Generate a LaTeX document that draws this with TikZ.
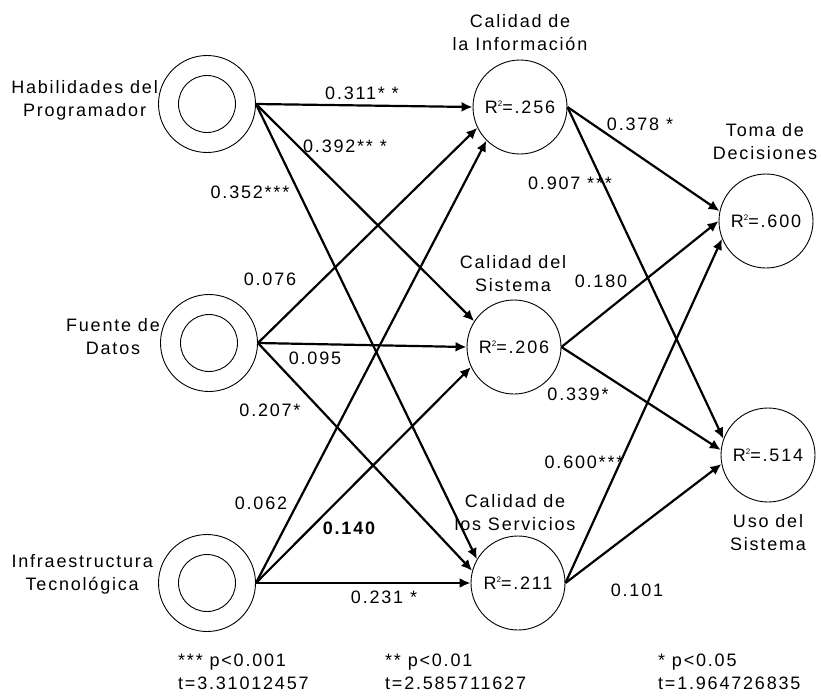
\documentclass[tikz,border=0pt]{standalone}
\usepackage{fontspec}
\setmainfont[LetterSpace=10]{Liberation Sans}
\usetikzlibrary{arrows.meta}
\newcommand\lbl{\fontsize{18}{23}\selectfont}
\newcommand\rsq{R\raisebox{7pt}{\fontsize{8}{8}\selectfont 2}}
\begin{document}
\begin{tikzpicture}[x=1pt,y=-1pt,
  outerc/.style={circle,draw,line width=0.9pt,minimum size=97pt,inner sep=0pt},
  innerc/.style={circle,draw,line width=0.9pt,minimum size=57pt,inner sep=0pt},
  endo/.style={circle,draw,line width=0.9pt,minimum size=94pt,inner sep=0pt,font=\lbl},
  vname/.style={align=center,font=\lbl,inner sep=0pt},
  coef/.style={font=\lbl,inner sep=0pt},
  pth/.style={line width=2.2pt,-{Latex[length=11pt,width=10pt]}}
]
\useasboundingbox (0,0) rectangle (821,699);
% exogenous
\node[outerc] (hab) at (207,104) {}; \node[innerc] (habi) at (207,104) {};
\node[outerc] (fue) at (209,343) {}; \node[innerc] (fuei) at (209,343) {};
\node[outerc] (inf) at (207,583) {}; \node[innerc] (infi) at (207,583) {};
\node[vname,anchor=east] (habl) at (158,100) {Habilidades del\\Programador};
\node[vname,anchor=east] (fuel) at (160,337) {Fuente de\\Datos};
\node[vname,anchor=east] (infl) at (153,574) {Infraestructura\\Tecnológica};
% endogenous
\node[endo] (info) at (520,107) {\rsq=.256};
\node[endo] (sis) at (514,347) {\rsq=.206};
\node[endo] (ser) at (518,583) {\rsq=.211};
\node[endo] (toma) at (766,221) {\rsq=.600};
\node[endo] (uso) at (768,455) {\rsq=.514};
\node[vname] (infol) at (520,33) {Calidad de\\la Información};
\node[vname] (sisl) at (513,274) {Calidad del\\Sistema};
\node[vname] (serl) at (515,513) {Calidad de\\los Servicios};
\node[vname] (tomal) at (765,142) {Toma de\\Decisiones};
\node[vname] (usol) at (768,533) {Uso del\\Sistema};
% paths left
\draw[pth] (hab.east) -- (info.180);
\draw[pth] (hab.east) -- (sis.147);
\draw[pth] (hab.east) -- (ser.150);
\draw[pth] (fue.east) -- (info.206);
\draw[pth] (fue.east) -- (sis.180);
\draw[pth] (fue.east) -- (ser.165);
\draw[pth] (inf.east) -- (info.225);
\draw[pth] (inf.east) -- (sis.205);
\draw[pth] (inf.east) -- (ser.180);
% paths right
\draw[pth] (info.east) -- (toma.168);
\draw[pth] (info.east) -- (uso.160);
\draw[pth] (sis.east) -- (toma.180);
\draw[pth] (sis.east) -- (uso.174);
\draw[pth] (ser.east) -- (toma.202);
\draw[pth] (ser.east) -- (uso.191);
% coefficients
\node[coef] (c1) at (362,93) {0.311* *};
\node[coef] (c2) at (345,146) {0.392** *};
\node[coef] (c3) at (250,192) {0.352***};
\node[coef] (c4) at (270,279) {0.076};
\node[coef] (c5) at (315,358) {0.095};
\node[coef] (c6) at (270,410) {0.207*};
\node[coef] (c7) at (261,503) {0.062};
\node[coef,font=\lbl\bfseries] (c8) at (349,528) {0.140};
\node[coef] (c9) at (384,597) {0.231 *};
\node[coef] (c10) at (640,124) {0.378 *};
\node[coef] (c11) at (570,183) {0.907 ***};
\node[coef] (c12) at (601,281) {0.180};
\node[coef] (c13) at (578,394) {0.339*};
\node[coef] (c14) at (584,462) {0.600***};
\node[coef] (c15) at (637,590) {0.101};
% footnotes
\node[coef,align=left,anchor=north west] (f1) at (178,654) {*** p<0.001\\t=3.31012457};
\node[coef,align=left,anchor=north west] (f2) at (385,654) {** p<0.01\\t=2.585711627};
\node[coef,align=left,anchor=north west] (f3) at (658,654) {* p<0.05\\t=1.964726835};
\end{tikzpicture}
\end{document}
